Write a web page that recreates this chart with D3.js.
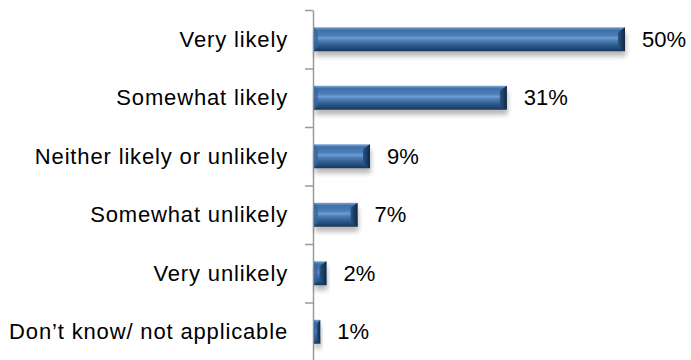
<!DOCTYPE html>
<html>
<head>
<meta charset="utf-8">
<script src="https://cdn.jsdelivr.net/npm/d3@7"></script>
<style>
  html, body { margin: 0; padding: 0; background: #fff; }
  svg { display: block; font-family: "Liberation Sans", Arial, sans-serif; }
</style>
</head>
<body>
<svg id="chart" width="691" height="360"></svg>
<script>
// Survey responses and their shares (percent)
const categories = [
  "Very likely",
  "Somewhat likely",
  "Neither likely or unlikely",
  "Somewhat unlikely",
  "Very unlikely",
  "Don\u2019t know/ not applicable"
];
const values = [50, 31, 9, 7, 2, 1];
const valueLabels = ["50%", "31%", "9%", "7%", "2%", "1%"];

const chartWidth = 691, chartHeight = 360;
const axisX = 313;
const plotTop = 10, plotBottom = 361;

const svg = d3.select("#chart");
const defs = svg.append("defs");

// Body gradient: light rim, bright streak, darker lower half
const grad = defs.append("linearGradient")
  .attr("id", "barBody").attr("x1", 0).attr("y1", 0).attr("x2", 0).attr("y2", 1);
[
  [0.00, "#7fa6d4"],
  [0.12, "#3f6fa6"],
  [0.35, "#4d7fb9"],
  [0.45, "#6e9dd2"],
  [0.55, "#4f80b9"],
  [0.75, "#2f5c90"],
  [0.90, "#22466f"],
  [1.00, "#18365a"]
].forEach(([o, c]) => grad.append("stop").attr("offset", o).attr("stop-color", c));

// Right-end bevel gradient
const gradR = defs.append("linearGradient")
  .attr("id", "barEnd").attr("x1", 0).attr("y1", 0).attr("x2", 1).attr("y2", 0);
gradR.append("stop").attr("offset", 0).attr("stop-color", "#2b5685");
gradR.append("stop").attr("offset", 1).attr("stop-color", "#0e2744");

const blur = defs.append("filter").attr("id", "shadow")
  .attr("x", "-20%").attr("y", "-50%").attr("width", "140%").attr("height", "200%");
blur.append("feGaussianBlur").attr("stdDeviation", 2.5);

const x = d3.scaleLinear().domain([0, 50]).range([axisX + 1, 625]);
const y = d3.scaleBand().domain(categories).range([plotTop, plotBottom])
  .paddingInner(0.59).paddingOuter(0.295);
const yEdge = d3.scaleLinear().domain([0, categories.length]).range([plotTop, plotBottom]);

// Vertical axis with ticks at category boundaries
svg.append("g")
  .attr("transform", `translate(${axisX},0)`)
  .call(d3.axisLeft(yEdge).tickValues(d3.range(categories.length + 1))
    .tickSize(8).tickSizeOuter(0).tickFormat(""))
  .call(g => g.selectAll("path, line").attr("stroke", "#9a9a9a").attr("stroke-width", 1.5));

const rows = svg.append("g").selectAll("g")
  .data(categories.map((c, i) => ({ c, v: values[i], label: valueLabels[i] })))
  .join("g");

// Soft drop shadow beneath each bar
rows.append("rect")
  .attr("x", d => x(0) + 1)
  .attr("y", d => y(d.c) + 5)
  .attr("width", d => x(d.v) - x(0))
  .attr("height", y.bandwidth())
  .attr("fill", "#000").attr("opacity", 0.28)
  .attr("filter", "url(#shadow)");

rows.append("rect")
  .attr("x", x(0))
  .attr("y", d => y(d.c))
  .attr("width", d => x(d.v) - x(0))
  .attr("height", y.bandwidth())
  .attr("fill", "url(#barBody)");

// Bevelled end caps
rows.append("polygon")
  .attr("points", d => {
    const x1 = x(d.v), x0 = x(0), y0 = y(d.c), y1 = y0 + y.bandwidth();
    const b = Math.min(7, (x1 - x0) * 0.6);
    const vb = 5;
    return [[x1 - b, y0 + vb], [x1, y0], [x1, y1], [x1 - b, y1 - vb]].join(" ");
  })
  .attr("fill", "url(#barEnd)");

rows.append("polygon")
  .attr("points", d => {
    const x1 = x(d.v), x0 = x(0), y0 = y(d.c), y1 = y0 + y.bandwidth();
    const b = Math.min(4, (x1 - x0) * 0.3);
    const vb = 5;
    return [[x0, y0], [x0 + b, y0 + vb], [x0 + b, y1 - vb], [x0, y1]].join(" ");
  })
  .attr("fill", "#3a679c").attr("opacity", 0.8);

// Category labels
rows.append("text")
  .attr("x", 288)
  .attr("y", d => y(d.c) + y.bandwidth() / 2)
  .attr("dy", "0.35em")
  .attr("text-anchor", "end")
  .attr("font-size", 22)
  .attr("letter-spacing", "0.85px")
  .attr("fill", "#000")
  .text(d => d.c);

// Value labels
rows.append("text")
  .attr("x", d => x(d.v) + 17)
  .attr("y", d => y(d.c) + y.bandwidth() / 2)
  .attr("dy", "0.35em")
  .attr("font-size", 22)
  .attr("fill", "#000")
  .text(d => d.label);
</script>
</body>
</html>
